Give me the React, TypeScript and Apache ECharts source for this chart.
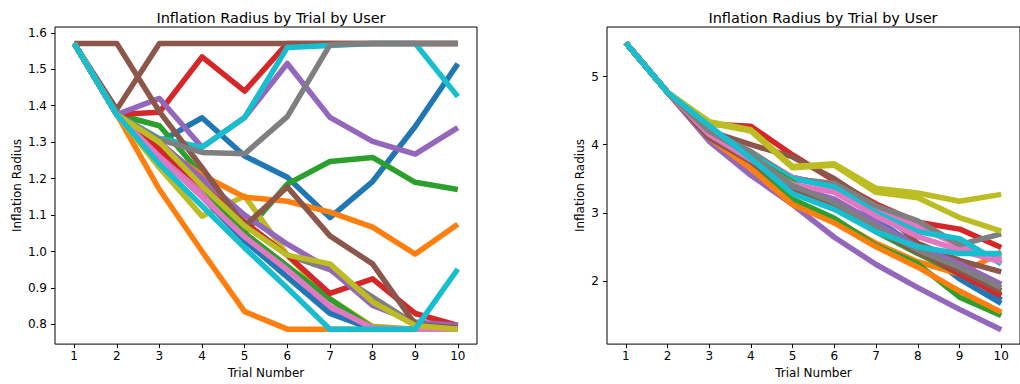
import React, { useEffect, useRef } from "react";
import * as echarts from "echarts";

const trials = [1, 2, 3, 4, 5, 6, 7, 8, 9, 10];
const leftYTicks = [0.8, 0.9, 1.0, 1.1, 1.2, 1.3, 1.4, 1.5, 1.6];
const rightYTicks = [2, 3, 4, 5];
const chartTitle = "Inflation Radius by Trial by User";
const xName = "Trial Number";
const yName = "Inflation Radius";

const tab10 = ["#1f77b4", "#ff7f0e", "#2ca02c", "#d62728", "#9467bd", "#8c564b", "#e377c2", "#7f7f7f", "#bcbd22", "#17becf"];

// Left panel (one array per user)
const L01 = [1.571, 1.376, 1.30, 1.367, 1.262, 1.204, 1.093, 1.192, 1.343, 1.515];
const L02 = [1.571, 1.376, 1.17, 1.0, 0.835, 0.787, 0.787, 0.787, 0.787, 0.787];
const L03 = [1.571, 1.376, 1.345, 1.21, 1.05, 1.185, 1.247, 1.258, 1.19, 1.17];
const L04 = [1.571, 1.376, 1.382, 1.534, 1.44, 1.571, 1.571, 1.571, 1.571, 1.571];
const L05 = [1.571, 1.376, 1.42, 1.286, 1.368, 1.516, 1.368, 1.302, 1.267, 1.34];
const L06 = [1.571, 1.39, 1.571, 1.571, 1.571, 1.571, 1.571, 1.571, 1.571, 1.571];
const L07 = [1.571, 1.376, 1.27, 1.16, 1.05, 0.96, 0.835, 0.787, 0.787, 0.787];
const L08 = [1.571, 1.376, 1.29, 1.19, 1.08, 0.99, 0.95, 0.875, 0.8, 0.787];
const L09 = [1.571, 1.376, 1.23, 1.097, 1.152, 0.99, 0.87, 0.795, 0.787, 0.787];
const L10 = [1.571, 1.376, 1.31, 1.286, 1.368, 1.56, 1.565, 1.571, 1.571, 1.425];
const L11 = [1.571, 1.376, 1.26, 1.15, 1.03, 0.93, 0.83, 0.787, 0.787, 0.787];
const L12 = [1.571, 1.376, 1.29, 1.21, 1.149, 1.138, 1.108, 1.067, 0.993, 1.075];
const L13 = [1.571, 1.376, 1.3, 1.18, 1.05, 0.96, 0.87, 0.79, 0.787, 0.787];
const L14 = [1.571, 1.376, 1.28, 1.18, 1.08, 0.99, 0.885, 0.925, 0.83, 0.797];
const L15 = [1.571, 1.376, 1.3, 1.2, 1.1, 1.02, 0.952, 0.852, 0.807, 0.797];
const L16 = [1.571, 1.571, 1.384, 1.23, 1.07, 1.177, 1.043, 0.966, 0.8, 0.79];
const L17 = [1.571, 1.376, 1.26, 1.15, 1.04, 0.95, 0.85, 0.79, 0.787, 0.787];
const L18 = [1.571, 1.376, 1.308, 1.272, 1.268, 1.37, 1.567, 1.571, 1.571, 1.571];
const L19 = [1.571, 1.376, 1.3, 1.18, 1.07, 0.99, 0.966, 0.862, 0.797, 0.787];
const L20 = [1.571, 1.376, 1.24, 1.125, 1.01, 0.9, 0.787, 0.787, 0.787, 0.952];

// Right panel (one array per user)
const R01 = [5.5, 4.77, 4.15, 3.8, 3.52, 3.39, 2.9, 2.49, 2.03, 1.67];
const R02 = [5.5, 4.77, 4.18, 3.7, 3.15, 2.9, 2.55, 2.28, 2.1, 2.42];
const R03 = [5.5, 4.77, 4.1, 3.7, 3.2, 2.92, 2.52, 2.25, 1.76, 1.49];
const R04 = [5.5, 4.77, 4.3, 4.27, 3.85, 3.47, 3.13, 2.86, 2.76, 2.49];
const R05 = [5.5, 4.77, 4.05, 3.55, 3.12, 2.64, 2.24, 1.9, 1.58, 1.28];
const R06 = [5.5, 4.77, 4.2, 4.0, 3.82, 3.5, 3.1, 2.55, 2.3, 2.13];
const R07 = [5.5, 4.77, 4.22, 3.88, 3.52, 3.37, 3.05, 2.8, 2.52, 2.32];
const R08 = [5.5, 4.77, 4.2, 3.9, 3.5, 3.43, 3.1, 2.88, 2.53, 2.69];
const R09 = [5.5, 4.77, 4.34, 4.22, 3.68, 3.72, 3.36, 3.29, 3.17, 3.27];
const R10 = [5.5, 4.77, 4.25, 3.85, 3.5, 3.38, 3.0, 2.72, 2.62, 2.25];
const R11 = [5.5, 4.77, 4.2, 3.85, 3.35, 3.15, 2.75, 2.5, 2.2, 1.72];
const R12 = [5.5, 4.77, 4.1, 3.65, 3.12, 2.85, 2.5, 2.2, 1.85, 1.54];
const R13 = [5.5, 4.77, 4.18, 3.82, 3.45, 3.1, 2.72, 2.4, 2.1, 1.8];
const R14 = [5.5, 4.77, 4.15, 3.8, 3.4, 3.15, 2.8, 2.45, 2.1, 1.78];
const R15 = [5.5, 4.77, 4.12, 3.75, 3.38, 3.2, 2.85, 2.5, 2.25, 1.95];
const R16 = [5.5, 4.77, 4.1, 3.75, 3.3, 3.1, 2.75, 2.42, 2.15, 1.85];
const R17 = [5.5, 4.77, 4.15, 3.78, 3.42, 3.3, 2.95, 2.65, 2.45, 2.28];
const R18 = [5.5, 4.77, 4.2, 3.85, 3.4, 3.15, 2.8, 2.45, 2.2, 1.9];
const R19 = [5.5, 4.77, 4.32, 4.2, 3.66, 3.7, 3.3, 3.22, 2.93, 2.73];
const R20 = [5.5, 4.77, 4.28, 3.8, 3.28, 3.05, 2.72, 2.5, 2.4, 2.4];

const leftUsers = [L01, L02, L03, L04, L05, L06, L07, L08, L09, L10, L11, L12, L13, L14, L15, L16, L17, L18, L19, L20];
const rightUsers = [R01, R02, R03, R04, R05, R06, R07, R08, R09, R10, R11, R12, R13, R14, R15, R16, R17, R18, R19, R20];

const FONT = "DejaVu Sans";

function makeXAxis(gridIndex: number) {
  return {
    type: "value",
    gridIndex,
    min: 0.55,
    max: 10.45,
    name: xName,
    nameLocation: "middle",
    nameGap: 21,
    nameTextStyle: { fontFamily: FONT, fontSize: 12, color: "#000" },
    axisLine: { show: false },
    splitLine: { show: false },
    axisTick: { show: true, inside: false, length: 4, customValues: trials, lineStyle: { color: "#000" } },
    axisLabel: { customValues: trials, fontFamily: FONT, fontSize: 12, color: "#000", margin: 6, formatter: (v: number) => String(v) },
  };
}

function makeYAxis(gridIndex: number, min: number, max: number, ticks: number[], digits: number, nameGap: number) {
  return {
    type: "value",
    gridIndex,
    min,
    max,
    name: yName,
    nameLocation: "middle",
    nameGap,
    nameTextStyle: { fontFamily: FONT, fontSize: 12, color: "#000" },
    axisLine: { show: false },
    splitLine: { show: false },
    axisTick: { show: true, inside: false, length: 4, customValues: ticks, lineStyle: { color: "#000" } },
    axisLabel: { customValues: ticks, fontFamily: FONT, fontSize: 12, color: "#000", margin: 8, formatter: (v: number) => v.toFixed(digits) },
  };
}

export default function App() {
  const ref = useRef<HTMLDivElement>(null);
  useEffect(() => {
    if (!ref.current) return;
    const chart = echarts.init(ref.current, null, { renderer: "svg" });
    const series: any[] = [];
    leftUsers.forEach((u, i) => {
      series.push({
        type: "line",
        xAxisIndex: 0,
        yAxisIndex: 0,
        data: trials.map((t, k) => [t, u[k]]),
        symbol: "none",
        lineStyle: { color: tab10[i % 10], width: 5.5, join: "round", cap: "butt" },
        itemStyle: { color: tab10[i % 10] },
      });
    });
    rightUsers.forEach((u, i) => {
      series.push({
        type: "line",
        xAxisIndex: 1,
        yAxisIndex: 1,
        data: trials.map((t, k) => [t, u[k]]),
        symbol: "none",
        lineStyle: { color: tab10[i % 10], width: 5.5, join: "round", cap: "butt" },
        itemStyle: { color: tab10[i % 10] },
      });
    });
    chart.setOption({
      animation: false,
      backgroundColor: "#fff",
      title: [
        { text: chartTitle, left: 266, top: 5, textAlign: "center", textStyle: { fontFamily: FONT, fontSize: 14.5, fontWeight: "normal", color: "#000" } },
        { text: chartTitle, left: 818, top: 5, textAlign: "center", textStyle: { fontFamily: FONT, fontSize: 14.5, fontWeight: "normal", color: "#000" } },
      ],
      grid: [
        { left: 55, top: 27, width: 422, height: 318, show: true, borderColor: "#000", borderWidth: 1, backgroundColor: "transparent" },
        { left: 607, top: 27, width: 423, height: 318, show: true, borderColor: "#000", borderWidth: 1, backgroundColor: "transparent" },
      ],
      xAxis: [makeXAxis(0), makeXAxis(1)],
      yAxis: [
        makeYAxis(0, 0.746, 1.616, leftYTicks, 1, 32),
        makeYAxis(1, 1.07, 5.73, rightYTicks, 0, 21),
      ],
      series,
    });
    return () => chart.dispose();
  }, []);
  return <div ref={ref} style={{ position: "fixed", left: 0, top: 0, width: 1020, height: 384 }} />;
}
